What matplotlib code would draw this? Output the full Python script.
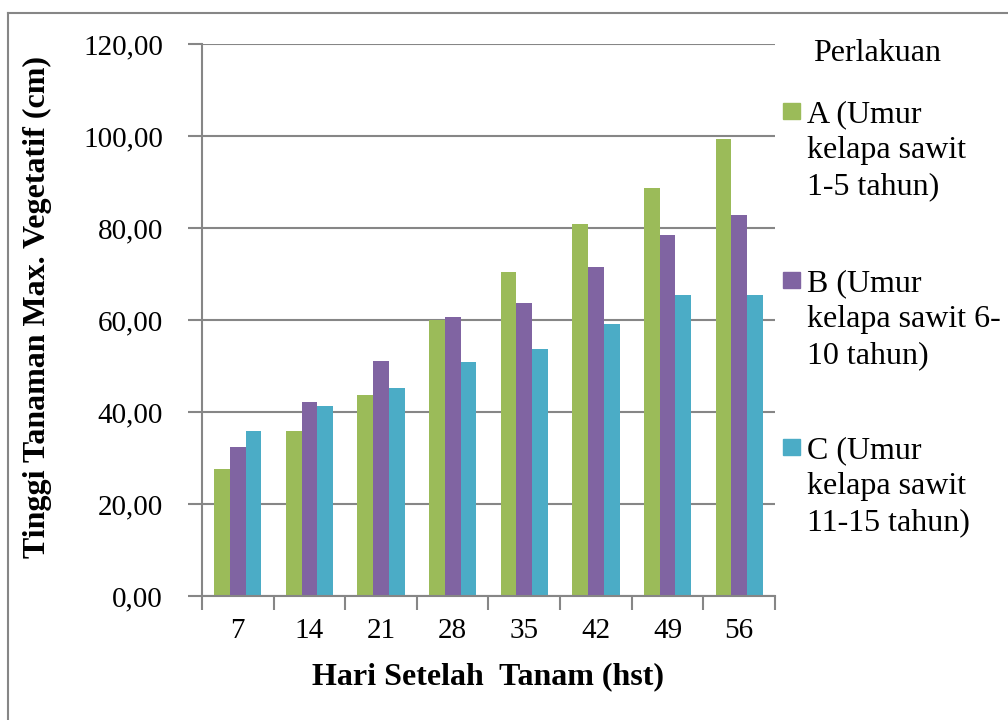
import matplotlib.pyplot as plt
import numpy as np
from matplotlib.patches import Rectangle
from matplotlib.lines import Line2D

plt.rcParams['font.family'] = ['Liberation Serif', 'DejaVu Serif']

# data
hari = ['7', '14', '21', '28', '35', '42', '49', '56']
perlakuan_a = [27.7, 35.9, 43.8, 60.1, 70.5, 80.9, 88.6, 99.4]
perlakuan_b = [32.3, 42.2, 51.0, 60.6, 63.7, 71.6, 78.5, 82.9]
perlakuan_c = [35.8, 41.4, 45.3, 50.8, 53.8, 59.1, 65.5, 65.5]
labels = ['A (Umur\nkelapa sawit\n1-5 tahun)',
          'B (Umur\nkelapa sawit 6-\n10 tahun)',
          'C (Umur\nkelapa sawit\n11-15 tahun)']
colors = ['#9BBB59', '#8064A2', '#4BACC6']
grid_color = '#868686'

W, H = 1008, 720
fig = plt.figure(figsize=(W / 100, H / 100), dpi=100)
ax = fig.add_axes([202 / W, 1 - 596 / H, (775 - 202) / W, (596 - 44) / H])

x = np.arange(len(hari))
bw = 0.22
for i, vals in enumerate([perlakuan_a, perlakuan_b, perlakuan_c]):
    ax.bar(x + (i - 1) * bw, vals, bw, color=colors[i], zorder=3, linewidth=0)

ax.set_xlim(-0.5, len(hari) - 0.5)
ax.set_ylim(0, 120)
ax.set_yticks(np.arange(0, 121, 20))
ax.set_yticklabels([f'{v:.2f}'.replace('.', ',') for v in np.arange(0, 121, 20)])
ax.set_xticks(x)
ax.set_xticklabels(hari)
# category separators as minor ticks
ax.set_xticks(np.arange(-0.5, len(hari), 1), minor=True)
ax.tick_params(axis='x', which='major', length=0, pad=16, labelsize=21)
ax.tick_params(axis='x', which='minor', length=10, width=1.5, color=grid_color, direction='out')
ax.tick_params(axis='y', length=10, width=1.5, color=grid_color, pad=18, labelsize=21)
ax.yaxis.grid(True, color=grid_color, linewidth=1.5, zorder=0)
for s in ['top', 'right']:
    ax.spines[s].set_visible(False)
for s in ['left', 'bottom']:
    ax.spines[s].set_color(grid_color)
    ax.spines[s].set_linewidth(1.5)
    ax.spines[s].set_zorder(4)

ax.set_xlabel('Hari Setelah  Tanam (hst)', fontsize=23, fontweight='bold', labelpad=13)
fig.text(37 / W, 1 - 307 / H, 'Tinggi Tanaman Max. Vegetatif (cm)', rotation=90,
         fontsize=23, fontweight='bold', ha='center', va='center')

# legend drawn by hand to match the layout
fig.text(813 / W, 1 - 61 / H, 'Perlakuan', fontsize=23, va='baseline')
first_base = [122, 291, 458]
line_step = 36
for i, lab in enumerate(labels):
    b = first_base[i]
    fig.patches.append(Rectangle((783 / W, 1 - (b - 3) / H), 17 / W, 16 / H,
                                 transform=fig.transFigure, color=colors[i]))
    for k, line in enumerate(lab.split('\n')):
        fig.text(807 / W, 1 - (b + k * line_step) / H, line, fontsize=23, va='baseline')

# chart area border
fig.add_artist(Line2D([8 / W, 8 / W], [0, 1 - 13 / H], transform=fig.transFigure,
                      color=grid_color, linewidth=1.5))
fig.add_artist(Line2D([8 / W, 1], [1 - 13 / H, 1 - 13 / H], transform=fig.transFigure,
                      color=grid_color, linewidth=1.5))

fig.savefig('out.png', dpi=100)
